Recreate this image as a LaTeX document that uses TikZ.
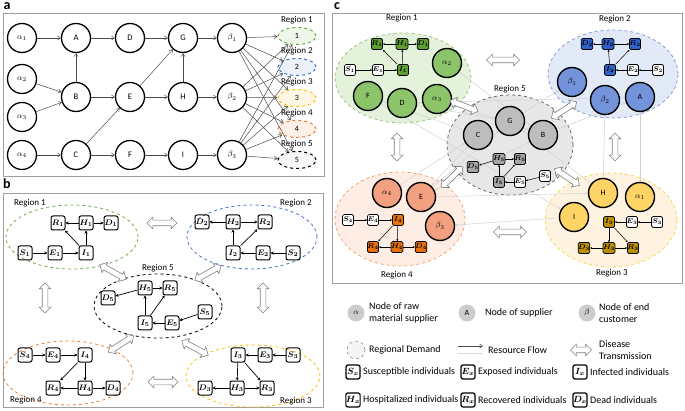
\documentclass[tikz,border=0pt]{standalone}
\usepackage{fontspec}
\setmainfont{Carlito}
\usepackage{xcolor}
\usepackage{tikz}
\usetikzlibrary{arrows.meta,positioning,shapes.geometric,shapes.arrows}
\pgfdeclarelayer{bg}
\pgfsetlayers{bg,main}

\definecolor{gnD}{HTML}{70AD47}
\definecolor{blD}{HTML}{4472C4}
\definecolor{ylD}{HTML}{FFC000}
\definecolor{orD}{HTML}{ED7D31}
\definecolor{gnF}{HTML}{EFF7EA}
\definecolor{blF}{HTML}{EDF1FA}
\definecolor{ylF}{HTML}{FFF7E6}
\definecolor{orF}{HTML}{FDF0E8}
\definecolor{gyF}{HTML}{F7F7F7}
\definecolor{gnR}{HTML}{E4F2DB}
\definecolor{blR}{HTML}{E3EAF7}
\definecolor{ylR}{HTML}{FEF3E0}
\definecolor{orR}{HTML}{FDEDE4}
\definecolor{gyR}{HTML}{E7E7E7}
\definecolor{gnC}{HTML}{8CC46A}
\definecolor{blC}{HTML}{7393DB}
\definecolor{ylC}{HTML}{FFD467}
\definecolor{orC}{HTML}{F2A080}
\definecolor{gyC}{HTML}{BDBDBD}
\definecolor{gnS}{HTML}{5C9E31}
\definecolor{blS}{HTML}{2F62C9}
\definecolor{ylS}{HTML}{BC8F00}
\definecolor{orS}{HTML}{E8710E}
\definecolor{gyS}{HTML}{A5A5A5}

\tikzset{
  pnl/.style={draw=gray!75,line width=0.8pt},
  tag/.style={font=\fontsize{14}{14}\selectfont\bfseries,inner sep=0pt},
  rlab/.style={font=\fontsize{9}{9}\selectfont,inner sep=0pt},
  nodeA/.style={circle,draw,line width=1.3pt,minimum size=29pt,inner sep=0pt,font=\fontsize{8.5}{9}\selectfont},
  regA/.style={ellipse,dashed,line width=1pt,minimum width=38pt,minimum height=17pt,inner sep=0pt},
  flowA/.style={-{Straight Barb[length=3pt,width=4pt]},gray!60!black,line width=0.5pt},
  flowC/.style={-{Stealth[length=3pt,width=2.5pt]},gray!35,line width=0.5pt},
  box/.style={draw,rounded corners=2pt,line width=1pt,minimum size=14pt,inner sep=0pt,font=\fontsize{8.5}{8.5}\selectfont\boldmath},
  boxC/.style={draw,rounded corners=1.5pt,line width=0.7pt,minimum size=11pt,inner sep=0pt,font=\fontsize{7}{7}\selectfont\boldmath},
  nodeC/.style={circle,draw,line width=1.4pt,minimum size=29pt,inner sep=0pt},
  sir/.style={-{Stealth[length=3pt,width=3pt]},line width=0.7pt},
  sirC/.style={-{Stealth[length=2pt,width=2pt]},line width=0.5pt},
  region/.style={ellipse,dashed,line width=0.8pt,inner sep=0pt},
  trans/.style={double arrow,draw=gray,fill=white,minimum height=30pt,inner xsep=0pt,inner ysep=2.5pt,double arrow head extend=3pt,line width=0.6pt},
  lgt/.style={anchor=west,align=left,font=\fontsize{10}{11.5}\selectfont,inner sep=0pt}
}

\begin{document}
\begin{tikzpicture}[x=1pt,y=-1pt,font=\fontsize{8}{9}\selectfont]
  \useasboundingbox (0,0) rectangle (685,411);

  % panel a
  \node[tag] (ta) at (7,6) {a};
  \draw[pnl] (3,13) rectangle (324,176);
  \foreach \n/\x/\y/\t in {al1/22/38/{$\alpha_1$}, aA/76/38/A, aD/130/38/D, aG/183/38/G, be1/232/38/{$\beta_1$},
      al2/22/79/{$\alpha_2$}, al3/22/117/{$\alpha_3$}, aB/76/97/B, aE/130/97/E, aH/183/97/H, be2/232/97/{$\beta_2$},
      al4/22/155/{$\alpha_4$}, aC/76/155/C, aF/130/155/F, aI/183/155/I, be3/232/155/{$\beta_3$}}
    \node[nodeA] (\n) at (\x,\y) {\t};
  \foreach \k/\c/\f in {1/gnD/gnF, 2/blD/blF, 3/ylD/ylF, 4/orD/orF, 5/black/gyF} {
    \node[regA,draw=\c,fill=\f] (ar\k) at (297,{5+31*\k}) {\k};
    \node[rlab,above=3pt of ar\k] (arl\k) {Region \k};
  }
  \foreach \s/\t in {al1/aA, aA/aD, aD/aG, aG/be1, al2/aB, al3/aB, aB/aA, aB/aE, aE/aG, aE/aH, aH/aG, aH/be2,
      al4/aC, aC/aE, aC/aF, aF/aI, aI/be3}
    \draw[flowA] (\s) -- (\t);
  \foreach \b in {1,2,3}
    \foreach \k in {1,...,5}
      \draw[flowA] (be\b) -- (ar\k);

  % panel b
  \node[tag] (tb) at (7,184) {b};
  \draw[pnl] (3,193) rectangle (323,407);
  \node[region,draw=gnD,minimum width=132pt,minimum height=64pt] (br1) at (72,237) {};
  \node[region,draw=blD,minimum width=130pt,minimum height=64pt] (br2) at (252,237) {};
  \node[region,draw=black,minimum width=128pt,minimum height=64pt] (br5) at (158,306) {};
  \node[region,draw=orD,minimum width=130pt,minimum height=64pt] (br4) at (68,373) {};
  \node[region,draw=ylD,minimum width=134pt,minimum height=62pt] (br3) at (253,376) {};
  \node[rlab] (brl1) at (30,203) {Region 1};
  \node[rlab] (brl2) at (296,203) {Region 2};
  \node[rlab] (brl5) at (158,268) {Region 5};
  \node[rlab] (brl4) at (26,400) {Region 4};
  \node[rlab] (brl3) at (296,401) {Region 3};
  \foreach \l/\k/\x/\y in {R/1/58/223, H/1/86/223, D/1/111/223, S/1/25/253, E/1/55/253, I/1/86/253,
      D/2/202/222, H/2/233/222, R/2/265/222, I/2/233/253, E/2/263/253, S/2/293/253,
      H/5/145/288, R/5/170/288, D/5/108/298, I/5/145/323, E/5/172/323, S/5/205/312,
      S/4/25/355, E/4/53/355, I/4/85/355, R/4/53/388, H/4/85/388, D/4/113/388,
      I/3/238/355, E/3/265/355, S/3/293/355, D/3/205/388, H/3/237/388, R/3/267/388}
    \node[box] (b\l\k) at (\x,\y) {$\l_\k$};
  \foreach \k in {1,...,5} {
    \draw[sir] (bS\k) -- (bE\k);
    \draw[sir] (bE\k) -- (bI\k);
    \draw[sir] (bI\k) -- (bH\k);
    \draw[sir] (bI\k) -- (bR\k);
    \draw[sir] (bH\k) -- (bR\k);
    \draw[sir] (bH\k) -- (bD\k);
  }
  \node[trans] (bt12) at (162,223) {};
  \node[trans,rotate=90] (bt14) at (45,298) {};
  \node[trans,rotate=90] (bt23) at (263,298) {};
  \node[trans] (bt43) at (163,382) {};
  \node[trans,rotate=-29] (bt15) at (113,272) {};
  \node[trans,rotate=29] (bt25) at (208,273) {};
  \node[trans,rotate=33] (bt45) at (121,344) {};
  \node[trans,rotate=-28] (bt35) at (195,348) {};

  % panel c
  \node[tag] (tc) at (337,6) {c};
  \draw[pnl] (332,13) rectangle (682,283);
  \begin{pgfonlayer}{bg}
    \node[region,draw=gnD!70,fill=gnR,minimum width=136pt,minimum height=90pt] (cr1) at (403,78) {};
    \node[region,draw=blD!70,fill=blR,minimum width=130pt,minimum height=88pt] (cr2) at (613,74) {};
    \node[region,draw=gray!80!black,fill=gyR,minimum width=126pt,minimum height=100pt] (cr5) at (510,145) {};
    \node[region,draw=orD!70,fill=orR,minimum width=130pt,minimum height=94pt] (cr4) at (400,219) {};
    \node[region,draw=ylD!70,fill=ylR,minimum width=132pt,minimum height=94pt] (cr3) at (611,220) {};
  \end{pgfonlayer}
  \node[rlab] (crl1) at (402,18) {Region 1};
  \node[rlab] (crl2) at (615,19) {Region 2};
  \node[rlab] (crl5) at (510,89) {Region 5};
  \node[rlab] (crl4) at (397,275) {Region 4};
  \node[rlab] (crl3) at (612,273) {Region 3};
  \foreach \n/\x/\y/\t/\f in {cal2/447/63/{$\alpha_2$}/gnC, cF/368/96/F/gnC, cD/402/103/D/gnC, cal3/437/99/{$\alpha_3$}/gnC,
      cbe1/572/82/{$\beta_1$}/blC, cbe2/605/100/{$\beta_2$}/blC, cA/640/97/A/blC,
      cG/510/121/G/gyC, cC/478/135/C/gyC, cB/543/135/B/gyC,
      cal4/387/193/{$\alpha_4$}/orC, cE/421/197/E/orC, cbe3/440/226/{$\beta_3$}/orC,
      cH/603/193/H/ylC, cal1/640/197/{$\alpha_1$}/ylC, cI/574/217/I/ylC}
    \node[nodeC,fill=\f] (\n) at (\x,\y) {\t};
  \foreach \l/\k/\x/\y/\f in {R/1/377/44/gnS, H/1/402/44/gnS, D/1/423/44/gnS, S/1/350/70/white, E/1/378/70/white, I/1/403/70/gnS,
      D/2/587/44/blS, H/2/608/44/blS, R/2/635/44/blS, I/2/610/70/blS, E/2/633/70/white, S/2/658/70/white,
      H/5/499/159/gyS, R/5/520/159/gyS, D/5/473/167/gyS, I/5/499/182/gyS, E/5/520/182/white, S/5/545/176/white,
      S/4/348/220/white, E/4/373/220/white, I/4/398/220/orS, R/4/373/247/orS, H/4/397/247/orS, D/4/421/247/orS,
      I/3/609/222/ylS, E/3/632/222/white, S/3/657/222/white, D/3/584/248/ylS, H/3/609/248/ylS, R/3/633/248/ylS}
    \node[boxC,fill=\f] (c\l\k) at (\x,\y) {$\l_\k$};
  \foreach \k in {1,...,5} {
    \draw[sirC] (cS\k) -- (cE\k);
    \draw[sirC] (cE\k) -- (cI\k);
    \draw[sirC] (cI\k) -- (cH\k);
    \draw[sirC] (cI\k) -- (cR\k);
    \draw[sirC] (cH\k) -- (cR\k);
    \draw[sirC] (cH\k) -- (cD\k);
  }
  \begin{pgfonlayer}{bg}
    \foreach \s/\t in {cal1/cA, cA/cD, cD/cG, cG/cbe1, cal2/cB, cal3/cB, cB/cA, cB/cE, cE/cG, cE/cH, cH/cG, cH/cbe2,
        cal4/cC, cC/cE, cC/cF, cF/cI, cI/cbe3}
      \draw[flowC] (\s) -- (\t);
  \end{pgfonlayer}
  \node[trans,minimum height=33pt] (ct12) at (503,60) {};
  \node[trans,rotate=90,minimum height=28pt] (ct14) at (397,147) {};
  \node[trans,rotate=90,minimum height=28pt] (ct23) at (615,147) {};
  \node[trans,minimum height=33pt] (ct43) at (510,232) {};
  \node[trans,rotate=-21] (ct15) at (464,106) {};
  \node[trans,rotate=33] (ct25) at (564,110) {};
  \node[trans,rotate=44] (ct45) at (452,177) {};
  \node[trans,rotate=-34] (ct35) at (567,177) {};

  % legend
  \node[circle,fill=gray!40,minimum size=17pt,inner sep=0pt] (lga) at (356,313) {$\alpha$};
  \node[lgt] (lgat) at (369,313) {Node of raw\\material supplier};
  \node[circle,fill=gray!40,minimum size=17pt,inner sep=0pt] (lgs) at (467,313) {A};
  \node[lgt] (lgst) at (485,313) {Node of supplier};
  \node[circle,fill=gray!40,minimum size=17pt,inner sep=0pt] (lgb) at (587,313) {$\beta$};
  \node[lgt] (lgbt) at (599,313) {Node of end\\customer};
  \node[circle,dashed,draw=gray!80!black,fill=gray!8,minimum size=18pt,inner sep=0pt] (lgr) at (356,350) {};
  \node[lgt] (lgrt) at (369,350) {Regional Demand};
  \coordinate (rf1) at (458,346);
  \coordinate (rf2) at (483,346);
  \coordinate (rf3) at (458,353);
  \coordinate (rf4) at (483,353);
  \draw[flowA] (rf1) -- (rf2);
  \draw[gray!30,line width=0.6pt] (rf3) -- (rf4);
  \node[lgt] (lgft) at (488,350) {Resource Flow};
  \node[trans,minimum height=21pt] (lgd) at (581,350) {};
  \node[lgt] (lgdt) at (599,350) {Disease\\Transmission};
  \foreach \l/\x/\y/\t in {S/353/372/Susceptible individuals, E/468/372/Exposed individuals, I/580/372/Infected individuals,
      H/353/400/Hospitalized individuals, R/468/400/Recovered individuals, D/580/400/Dead individuals} {
    \node[box,line width=1.2pt,font=\fontsize{9}{9}\selectfont\boldmath] (lg\l) at (\x,\y) {$\l_x$};
    \node[lgt] (lg\l t) at (\x+10,\y) {\t};
  }
\end{tikzpicture}
\end{document}
